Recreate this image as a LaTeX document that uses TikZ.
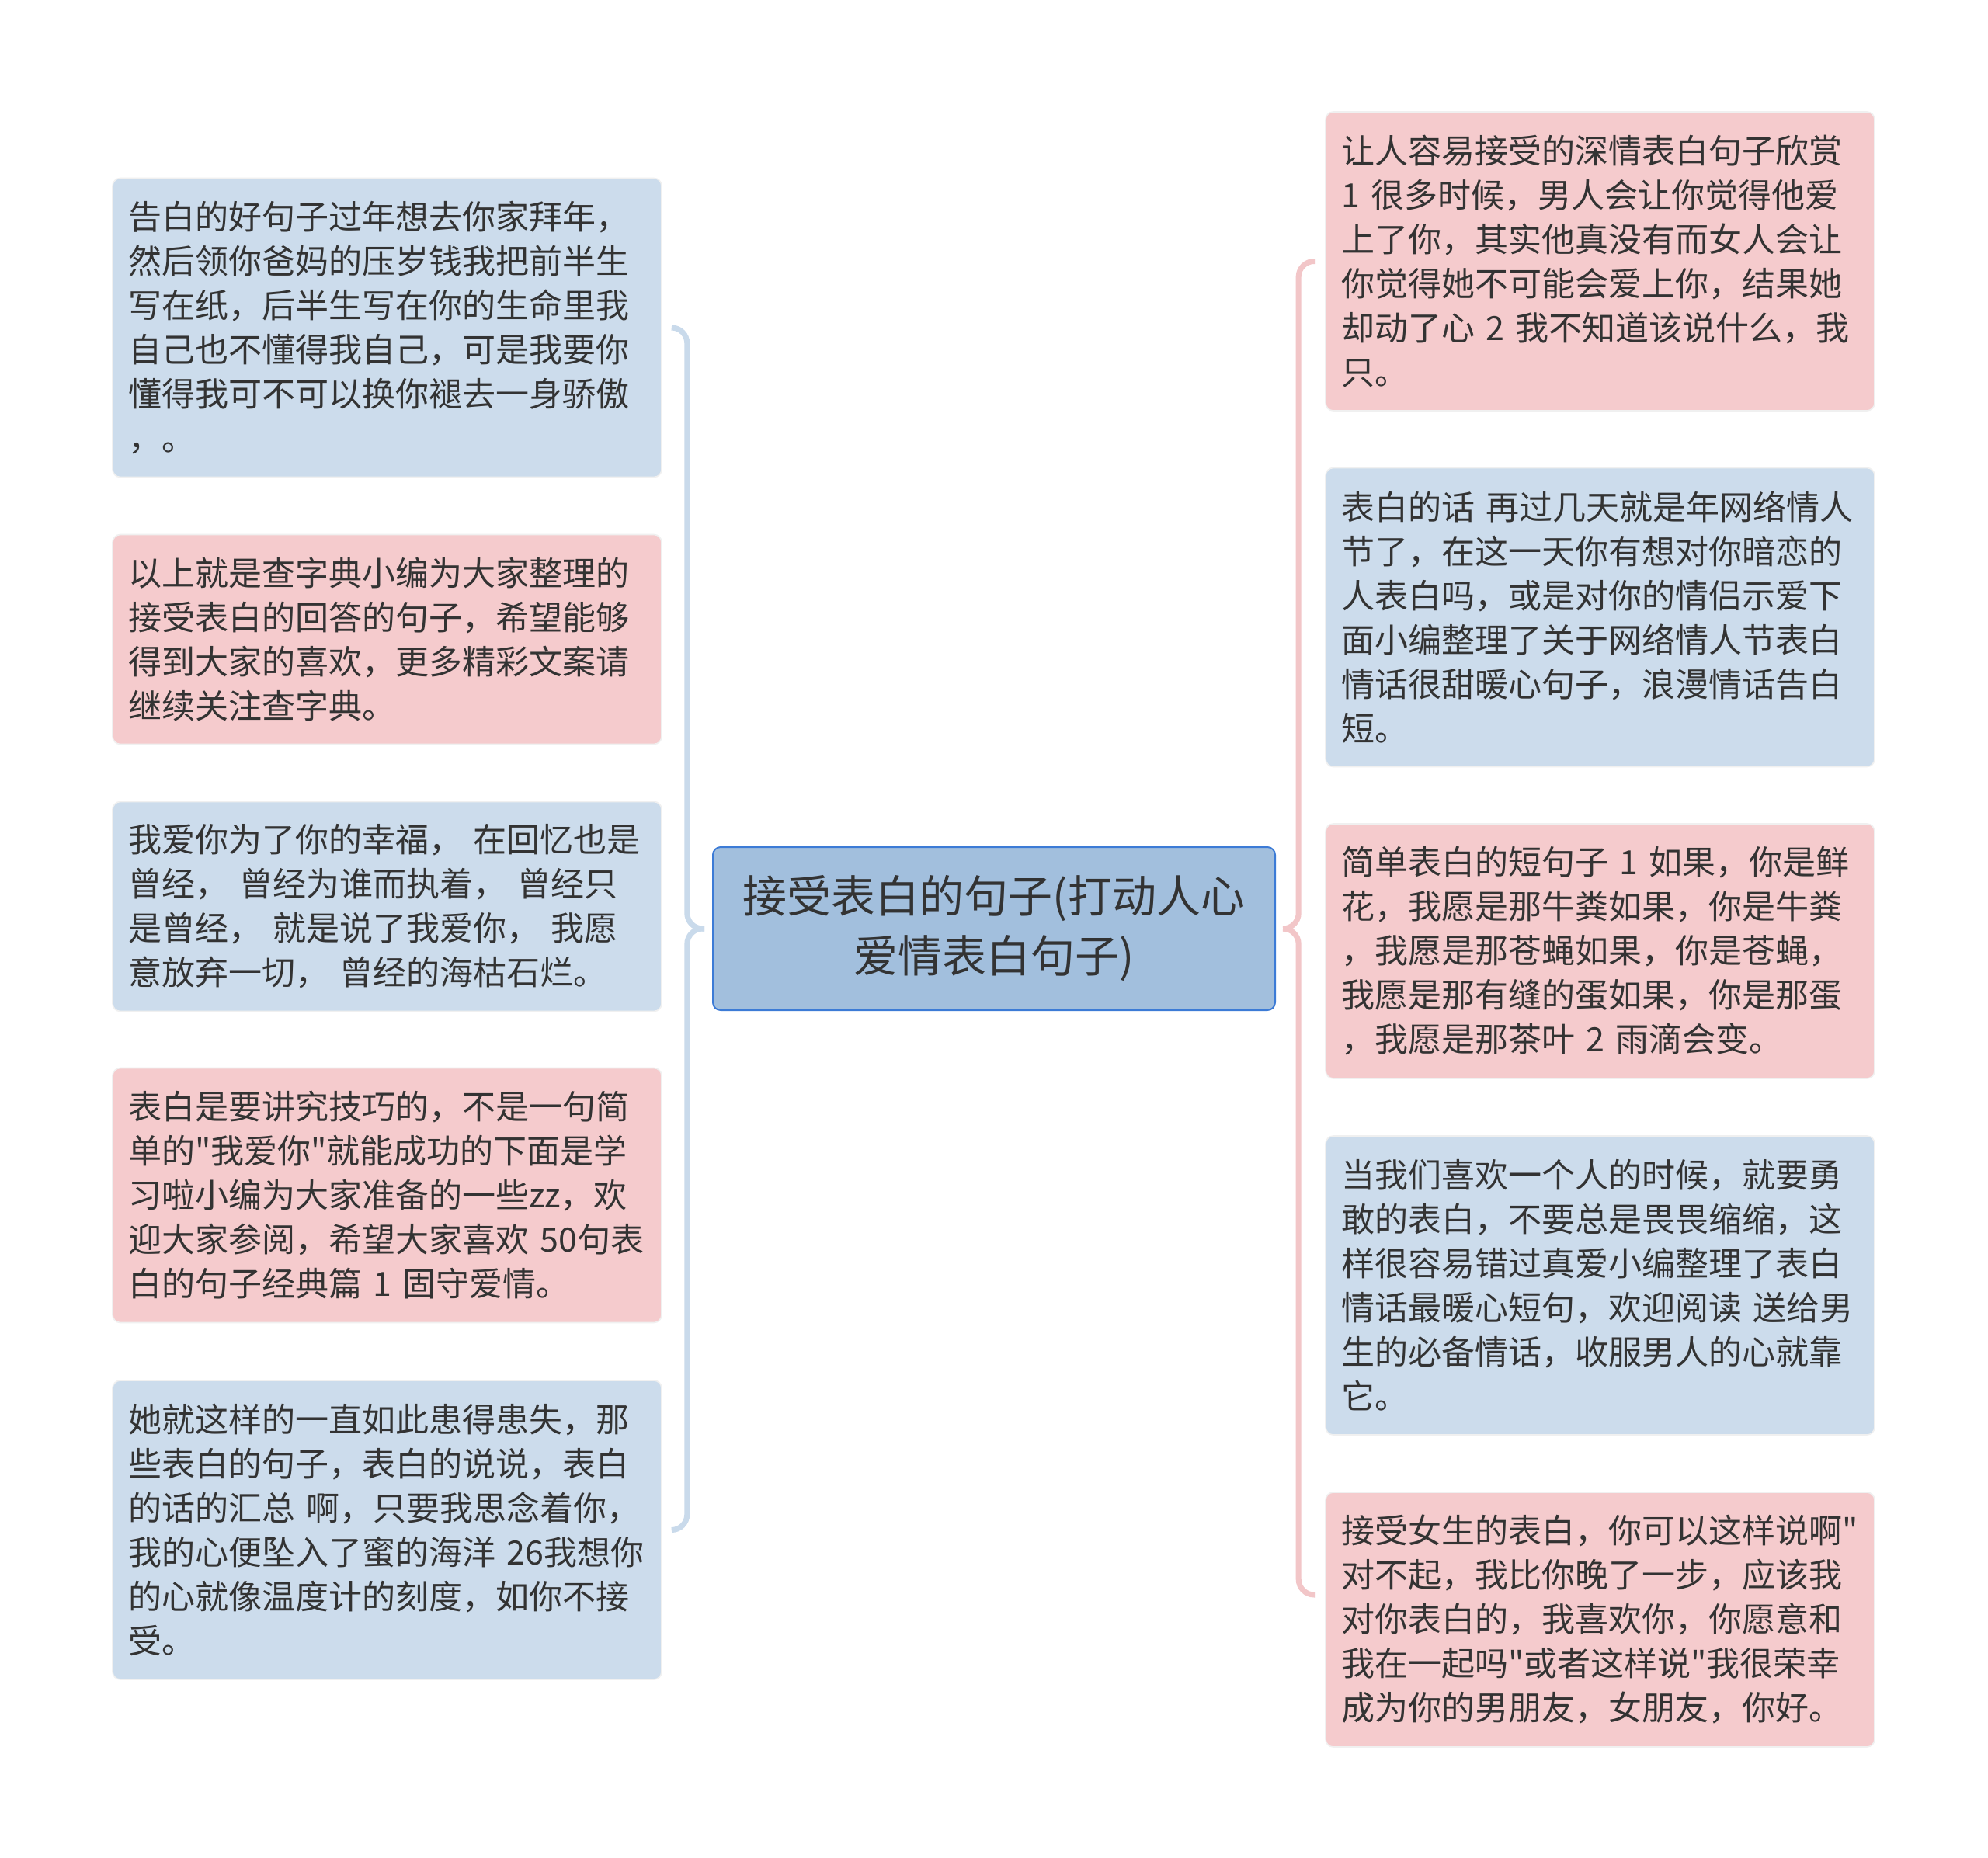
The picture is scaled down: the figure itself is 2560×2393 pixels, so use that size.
\documentclass[tikz,border=0pt]{standalone}
\usepackage{fontspec}
\setmainfont{Noto Sans CJK SC}[Ligatures=TeXOff]
\definecolor{leafblue}{HTML}{CCDCEC}
\definecolor{leafpink}{HTML}{F5CBCD}
\definecolor{rootfill}{HTML}{A2BFDD}
\definecolor{rootline}{HTML}{3C7BD6}
\definecolor{lbracec}{HTML}{C9DAEB}
\definecolor{rbracec}{HTML}{F2C6C8}
\definecolor{txt}{HTML}{333333}
\begin{document}
\begin{tikzpicture}[x=0.5pt,y=-0.5pt,
  leaf/.style={rounded corners=5pt,draw=black!6,line width=0.8pt,text=txt,
    align=left,text width=333.5pt,inner xsep=10pt,inner ysep=0pt,
    font=\fontsize{21.5pt}{28.5pt}\selectfont},
  root/.style={rounded corners=5pt,draw=rootline,fill=rootfill,line width=1pt,
    text=txt,align=center,minimum width=362pt,minimum height=105pt,
    font=\fontsize{28.5pt}{38.5pt}\selectfont},
  lbrace/.style={draw=lbracec,line width=3.5pt,rounded corners=10pt},
  rbrace/.style={draw=rbracec,line width=3.5pt,rounded corners=10pt}]
\fill[white] (0,0) rectangle (2560,2393);
\useasboundingbox (0,0) rectangle (2560,2393);

\node[root] (root) at (1280,1196) {接受表白的句子(打动人心\\爱情表白句子)};

% left side
\node[leaf,fill=leafblue,minimum height=192.5pt] (l1) at (498.5,422) {告白的好句子过年想去你家拜年，\\然后领你爸妈的压岁钱我把前半生\\写在纸，后半生写在你的生命里我\\自己也不懂得我自己，可是我要你\\懂得我可不可以换你褪去一身骄傲\\，。};
\node[leaf,fill=leafpink,minimum height=135pt] (l2) at (498.5,823.5) {以上就是查字典小编为大家整理的\\接受表白的回答的句子，希望能够\\得到大家的喜欢，更多精彩文案请\\继续关注查字典。};
\node[leaf,fill=leafblue,minimum height=135pt] (l3) at (498.5,1167.5) {我爱你为了你的幸福， 在回忆也是\\曾经， 曾经为谁而执着， 曾经只\\是曾经， 就是说了我爱你， 我愿\\意放弃一切， 曾经的海枯石烂。};
\node[leaf,fill=leafpink,minimum height=164pt] (l4) at (498.5,1539.5) {表白是要讲究技巧的，不是一句简\\单的"我爱你"就能成功的下面是学\\习啦小编为大家准备的一些zz，欢\\迎大家参阅，希望大家喜欢 50句表\\白的句子经典篇 1 固守爱情。};
\node[leaf,fill=leafblue,minimum height=192.5pt] (l5) at (498.5,1970.5) {她就这样的一直如此患得患失，那\\些表白的句子，表白的说说，表白\\的话的汇总 啊，只要我思念着你，\\我的心便坠入了蜜的海洋 26我想你\\的心就像温度计的刻度，如你不接\\受。};

% right side
\node[leaf,fill=leafpink,minimum height=192.5pt] (r1) at (2060.5,336.5) {让人容易接受的深情表白句子欣赏\\1 很多时候，男人会让你觉得他爱\\上了你，其实他真没有而女人会让\\你觉得她不可能会爱上你，结果她\\却动了心 2 我不知道该说什么，我\\只。};
\node[leaf,fill=leafblue,minimum height=192.5pt] (r2) at (2060.5,795) {表白的话 再过几天就是年网络情人\\节了，在这一天你有想对你暗恋的\\人表白吗，或是对你的情侣示爱下\\面小编整理了关于网络情人节表白\\情话很甜暖心句子，浪漫情话告白\\短。};
\node[leaf,fill=leafpink,minimum height=164pt] (r3) at (2060.5,1225) {简单表白的短句子 1 如果，你是鲜\\花，我愿是那牛粪如果，你是牛粪\\，我愿是那苍蝇如果，你是苍蝇，\\我愿是那有缝的蛋如果，你是那蛋\\，我愿是那茶叶 2 雨滴会变。};
\node[leaf,fill=leafblue,minimum height=192.5pt] (r4) at (2060.5,1655.5) {当我们喜欢一个人的时候，就要勇\\敢的表白，不要总是畏畏缩缩，这\\样很容易错过真爱小编整理了表白\\情话最暖心短句，欢迎阅读 送给男\\生的必备情话，收服男人的心就靠\\它。};
\node[leaf,fill=leafpink,minimum height=164pt] (r5) at (2060.5,2086) {接受女生的表白，你可以这样说啊"\\对不起，我比你晚了一步，应该我\\对你表白的，我喜欢你，你愿意和\\我在一起吗"或者这样说"我很荣幸\\成为你的男朋友，女朋友，你好。};

% braces
\coordinate (ltip) at ([xshift=-5pt]root.west);
\coordinate (rtip) at ([xshift=5pt]root.east);
\draw[lbrace] (ltip) -| ([xshift=16pt]l1.east) -- ([xshift=6pt]l1.east);
\draw[lbrace] (ltip) -| ([xshift=16pt]l5.east) -- ([xshift=6pt]l5.east);
\draw[rbrace] (rtip) -| ([xshift=-17pt]r1.west) -- ([xshift=-6pt]r1.west);
\draw[rbrace] (rtip) -| ([xshift=-17pt,yshift=16pt]r5.west) -- ([xshift=-6pt,yshift=16pt]r5.west);
\end{tikzpicture}
\end{document}
